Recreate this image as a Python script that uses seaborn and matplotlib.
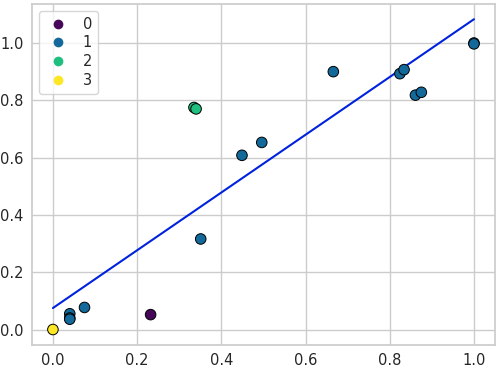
import seaborn as sns
import pandas as pd
import numpy as np
import matplotlib.pyplot as plt
from matplotlib.lines import Line2D

# points
x_vals = [0.0, 0.232, 0.335, 0.340, 0.040, 0.040, 0.040, 0.075, 0.351, 0.449,
          0.496, 0.666, 0.824, 0.834, 0.861, 0.875, 1.0, 1.0]
y_vals = [0.0, 0.052, 0.775, 0.770, 0.055, 0.040, 0.036, 0.077, 0.316, 0.608,
          0.653, 0.900, 0.893, 0.907, 0.818, 0.828, 1.0, 0.997]
groups = [3, 0, 2, 2, 1, 1, 1, 1, 1, 1,
          1, 1, 1, 1, 1, 1, 1, 1]
group_levels = [0, 1, 2, 3]

# fitted line endpoints
line_x = [0.0, 1.0]
line_y = [0.075, 1.083]

df = pd.DataFrame({'x': x_vals, 'y': y_vals, 'group': groups})

# viridis-like colours as they appear in the picture
pal = {0: '#46065a', 1: '#12699a', 2: '#1fbf80', 3: '#fde725'}

sns.set_theme(style='whitegrid')
plt.rcParams['font.family'] = ['DejaVu Sans']
fig, ax = plt.subplots(figsize=(4.98, 3.71), dpi=100)

sns.scatterplot(data=df, x='x', y='y', hue='group', palette=pal,
                legend=False, s=58, edgecolor='black',
                linewidth=0.7, ax=ax, zorder=3)
ax.plot(line_x, line_y, color='#0022dd', linewidth=1.5, zorder=2)

ax.set_xlabel('')
ax.set_ylabel('')
ax.tick_params(labelsize=10.5, length=0, pad=6, labelcolor='#262626')

handles = [Line2D([], [], marker='o', linestyle='', markersize=7,
                  markerfacecolor=pal[g], markeredgewidth=0)
           for g in group_levels]
ax.legend(handles, [str(g) for g in group_levels], loc='upper left',
          fontsize=10.5, labelspacing=0.25, handlelength=1.8, handletextpad=0.8)

fig.subplots_adjust(left=0.064, right=0.994, top=0.99, bottom=0.07)
fig.savefig('out.png', dpi=100)
